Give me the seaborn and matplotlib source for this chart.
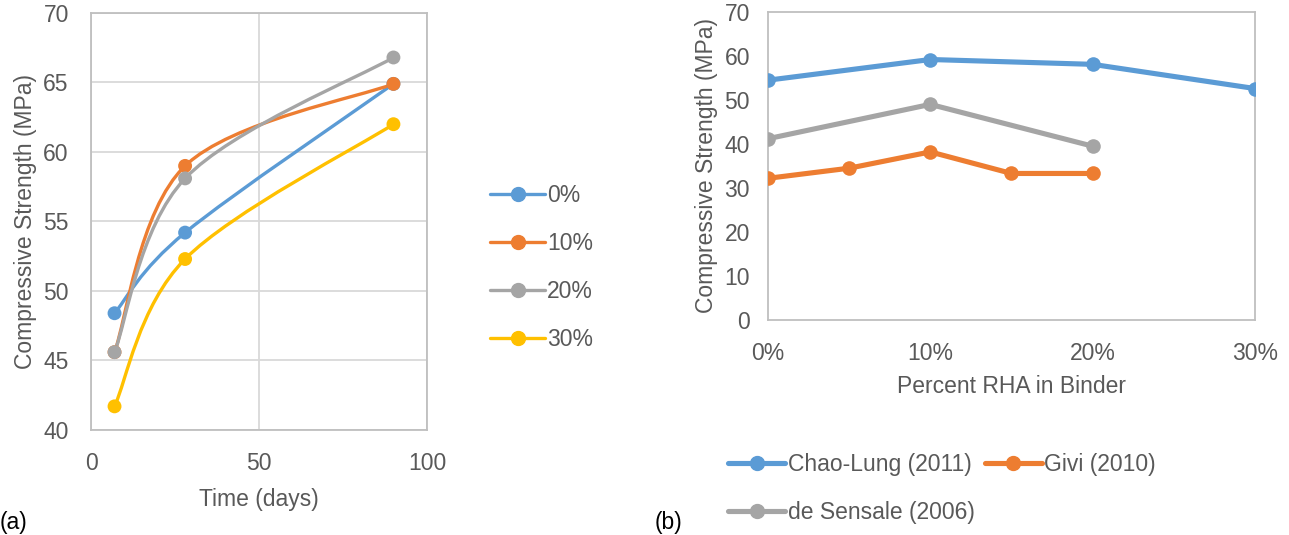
import numpy as np
import pandas as pd
import matplotlib
matplotlib.use("Agg")
import matplotlib.pyplot as plt
from matplotlib.path import Path
from matplotlib.patches import PathPatch
from matplotlib.lines import Line2D
import seaborn as sns

# (a) strength vs curing time
days = [7, 28, 90]
rha_levels = ["0%", "10%", "20%", "30%"]
strength_0 = [48.4, 54.2, 64.9]
strength_10 = [45.6, 59.0, 64.9]
strength_20 = [45.6, 58.1, 66.8]
strength_30 = [41.7, 52.3, 62.0]

# (b) strength vs RHA content, literature
studies = ["Chao-Lung (2011)", "Givi (2010)", "de Sensale (2006)"]
chao_rha = [0, 10, 20, 30]
chao_strength = [54.5, 59.2, 58.1, 52.6]
givi_rha = [0, 5, 10, 15, 20]
givi_strength = [32.2, 34.5, 38.2, 33.3, 33.3]
sensale_rha = [0, 10, 20]
sensale_strength = [41.2, 49.0, 39.5]

colors = ["#5B9BD5", "#ED7D31", "#A5A5A5", "#FFC000"]
text_col = "#595959"

sns.set_theme(style="white")
plt.rcParams["font.family"] = ["Liberation Sans", "DejaVu Sans"]
plt.rcParams["text.color"] = text_col
plt.rcParams["axes.labelcolor"] = text_col
plt.rcParams["xtick.color"] = text_col
plt.rcParams["ytick.color"] = text_col
fs = 16.5

fig = plt.figure(figsize=(12.89, 5.35), dpi=100)
ax1 = fig.add_axes([0.0706, 0.1963, 0.2607, 0.7794])
ax2 = fig.add_axes([0.5958, 0.4019, 0.3778, 0.5757])


def smooth_curve(ax, xs, ys, color, lw):
    # Excel-style smoothed line: cubic bezier through the points (in display space)
    pts = ax.transData.transform(np.column_stack([xs, ys]))
    n = len(pts)
    verts = [pts[0]]
    codes = [Path.MOVETO]
    for i in range(n - 1):
        p0 = pts[i - 1] if i > 0 else pts[i]
        p1 = pts[i]
        p2 = pts[i + 1]
        p3 = pts[i + 2] if i + 2 < n else pts[i + 1]
        c1 = p1 + (p2 - p0) / 6.0
        c2 = p2 - (p3 - p1) / 6.0
        verts += [c1, c2, p2]
        codes += [Path.CURVE4] * 3
    verts = ax.transData.inverted().transform(np.array(verts))
    ax.add_patch(PathPatch(Path(verts, codes), fill=False, edgecolor=color,
                           lw=lw, capstyle="round", joinstyle="round", zorder=3))


# ---- panel (a)
ax1.set_xlim(0, 100)
ax1.set_ylim(40, 70)
ax1.set_xticks([0, 50, 100])
ax1.set_yticks(np.arange(40, 71, 5))
ax1.grid(True, color="#D9D9D9", lw=1.3)
for s in ax1.spines.values():
    s.set_color("#BFBFBF")
    s.set_linewidth(1.3)
fig.canvas.draw()

series_a = [strength_0, strength_10, strength_20, strength_30]
rows = []
for lvl, vals in zip(rha_levels, series_a):
    for d, v in zip(days, vals):
        rows.append({"day": d, "strength": v, "rha": lvl})
df_a = pd.DataFrame(rows)
for lvl, vals, c in zip(rha_levels, series_a, colors):
    smooth_curve(ax1, days, vals, c, 2.4)
sns.scatterplot(data=df_a, x="day", y="strength", hue="rha", palette=colors,
                s=100, marker="o", edgecolor="none", legend=False, ax=ax1, zorder=4)
ax1.set_xlabel("Time (days)", fontsize=fs)
ax1.set_ylabel("Compressive Strength (MPa)", fontsize=fs)
ax1.tick_params(labelsize=fs, length=0)
ax1.tick_params(axis="y", pad=16)
ax1.tick_params(axis="x", pad=15.5)
ax1.xaxis.set_label_coords(0.5, -0.14)
ax1.yaxis.set_label_coords(-0.161, 0.5)

handles_a = [Line2D([], [], color=c, lw=2.4, marker="o", markersize=10) for c in colors]
fig.legend(handles_a, rha_levels, loc="upper left", bbox_to_anchor=(0.3642, 0.694),
           frameon=False, fontsize=fs, handlelength=2.4, handletextpad=0.1,
           labelspacing=1.085)

# ---- panel (b)
df_b = pd.concat([
    pd.DataFrame({"rha": chao_rha, "strength": chao_strength, "study": studies[0]}),
    pd.DataFrame({"rha": givi_rha, "strength": givi_strength, "study": studies[1]}),
    pd.DataFrame({"rha": sensale_rha, "strength": sensale_strength, "study": studies[2]}),
])
sns.lineplot(data=df_b, x="rha", y="strength", hue="study", palette=colors[:3],
             marker="o", markersize=10.5, markeredgewidth=0, lw=3.7, legend=False,
             ax=ax2, zorder=3)
ax2.set_xlim(0, 30)
ax2.set_ylim(0, 70)
ax2.set_xticks([0, 10, 20, 30])
ax2.set_xticklabels(["0%", "10%", "20%", "30%"])
ax2.set_yticks(np.arange(0, 71, 10))
for s in ax2.spines.values():
    s.set_color("#BFBFBF")
    s.set_linewidth(1.3)
ax2.set_xlabel("Percent RHA in Binder", fontsize=fs)
ax2.set_ylabel("Compressive Strength (MPa)", fontsize=fs)
ax2.tick_params(labelsize=fs, length=0)
ax2.tick_params(axis="y", pad=13)
ax2.tick_params(axis="x", pad=15.5)
ax2.xaxis.set_label_coords(0.5, -0.18)
ax2.yaxis.set_label_coords(-0.102, 0.5)

handles_b = [Line2D([], [], color=c, lw=3.7, marker="o", markersize=10) for c in colors[:3]]
order = [0, 2, 1]
fig.legend([handles_b[i] for i in order], [studies[i] for i in order],
           loc="upper left", bbox_to_anchor=(0.5488, 0.192), ncol=2,
           frameon=False, fontsize=fs, handlelength=2.5, handletextpad=0.1,
           columnspacing=0.44, labelspacing=1.085)

fig.text(0.0, 0.012, "(a)", fontsize=fs, color="black")
fig.text(0.508, 0.012, "(b)", fontsize=fs, color="black")

fig.savefig("out.png", dpi=100)
